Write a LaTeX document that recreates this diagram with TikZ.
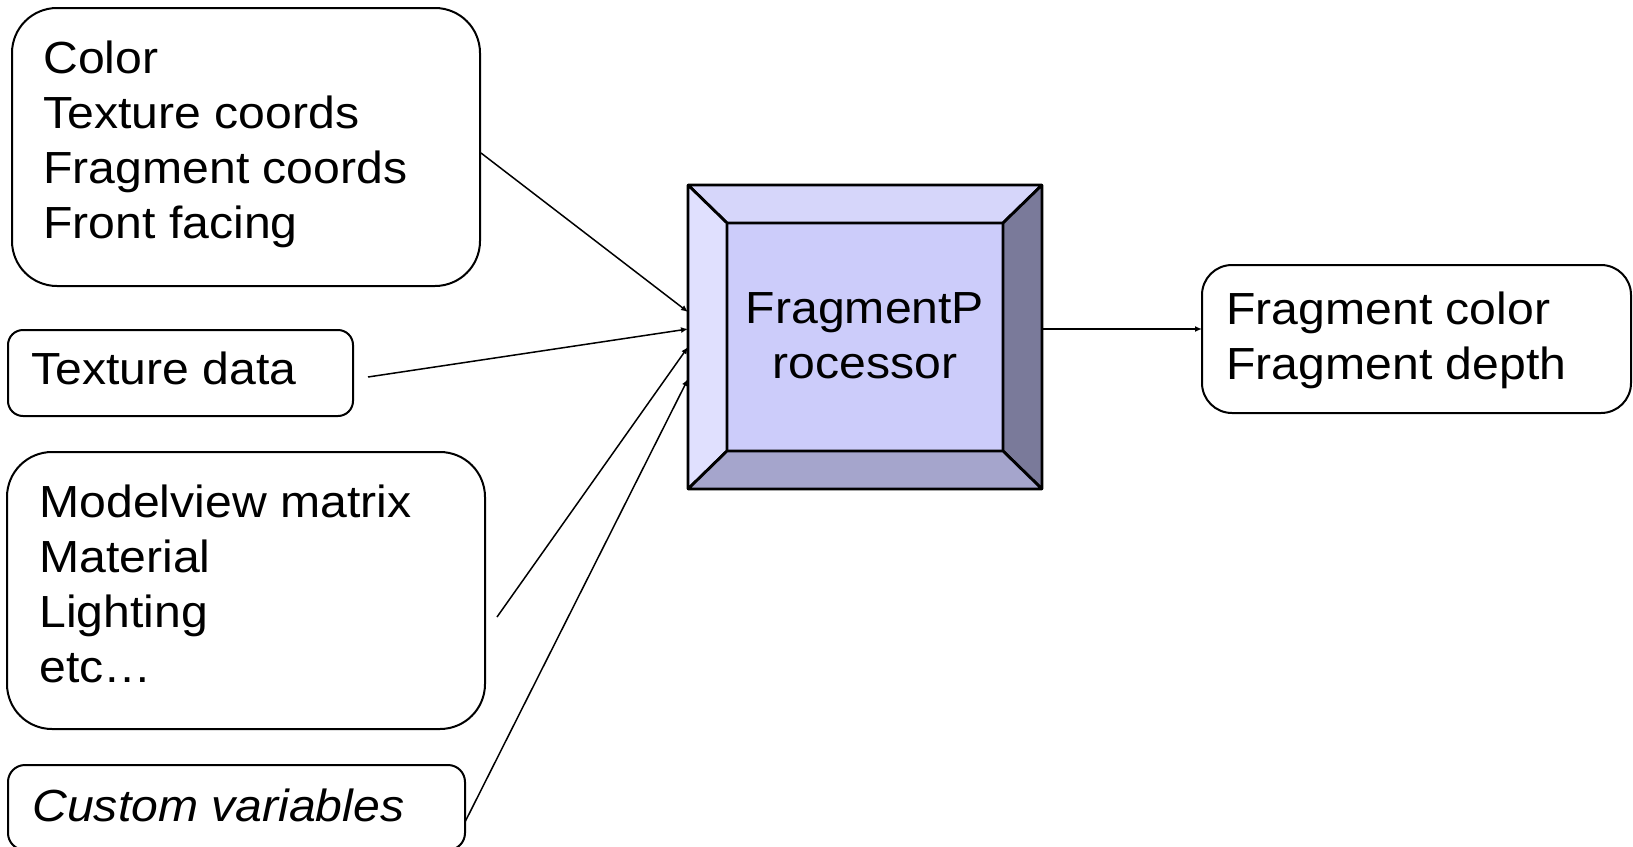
\documentclass[tikz,border=0pt]{standalone}
\usepackage{fontspec}
\setmainfont{Liberation Sans}[FakeStretch=1.07]
\usetikzlibrary{arrows.meta}

% multi-line text whose baseline is that of its first line
\newcommand{\txtlines}[2][l]{\begin{tabular}[t]{@{}#1@{}}#2\end{tabular}}

\definecolor{bevtop}{RGB}{214,214,250}
\definecolor{bevleft}{RGB}{224,224,254}
\definecolor{bevright}{RGB}{122,122,154}
\definecolor{bevbottom}{RGB}{165,165,204}
\definecolor{facecol}{RGB}{204,204,250}

\begin{document}
\begin{tikzpicture}[x=0.5pt,y=-0.5pt,
  panel/.style={draw,line width=1pt,rounded corners=#1,inner sep=0pt,outer sep=0pt},
  shape only/.style={inner sep=0pt,outer sep=0pt},
  body/.style={font=\fontsize{22.5}{27.6}\selectfont,inner sep=0pt,anchor=base west},
  feed/.style={-{Latex[length=3.5pt,width=3pt]},line width=0.75pt},
  edge line/.style={line width=1.4pt,line join=bevel}]

\useasboundingbox (0,0) rectangle (1633,846);
\clip (0,0) rectangle (1633,846);

% input panels
\node[panel=22.5pt,minimum width=234pt,minimum height=139pt] (inA) at (246,147) {};
\node[panel=7.5pt,minimum width=172.5pt,minimum height=43pt] (inB) at (180.5,373) {};
\node[panel=22.5pt,minimum width=239pt,minimum height=138.5pt] (inC) at (246,590.5) {};
\node[panel=8.5pt,minimum width=228.5pt,minimum height=42.5pt] (inD) at (236.5,807.5) {};

% output panel
\node[panel=15pt,minimum width=214.5pt,minimum height=74pt] (out) at (1416.5,339) {};

% panel texts
\node[body] (tA) at (43,73) {\txtlines{Color\\Texture coords\\Fragment coords\\Front facing}};
\node[body] (tB) at (31,384) {Texture data};
\node[body] (tC) at (39,517) {\txtlines{Modelview matrix\\Material\\Lighting\\etc…}};
\node[body] (tD) at (32,821) {\itshape Custom variables};
\node[body] (tO) at (1226,324) {\txtlines{Fragment color\\Fragment depth}};

% bevelled processor block
\node[shape only,minimum width=177pt,minimum height=152pt] (fp) at (865,337) {};
\node[shape only,draw,edge line,fill=facecol,minimum width=138pt,minimum height=114pt] (fpin) at (865,337) {};
\filldraw[edge line,fill=bevtop] (fp.north west) -- (fp.north east) -- (fpin.north east) -- (fpin.north west) -- cycle;
\filldraw[edge line,fill=bevleft] (fp.north west) -- (fpin.north west) -- (fpin.south west) -- (fp.south west) -- cycle;
\filldraw[edge line,fill=bevright] (fp.north east) -- (fp.south east) -- (fpin.south east) -- (fpin.north east) -- cycle;
\filldraw[edge line,fill=bevbottom] (fp.south west) -- (fpin.south west) -- (fpin.south east) -- (fp.south east) -- cycle;
\draw[line width=1.4pt,line join=miter] (fp.north west) rectangle (fp.south east);
\draw[line width=1.4pt,line join=miter] (fpin.north west) rectangle (fpin.south east);
\node[inner sep=0pt,anchor=base,font=\fontsize{22.5}{27.5}\selectfont] (fptext) at (865,323)
  {\txtlines[c]{FragmentP\\rocessor}};

% connectors
\draw[feed] ([shift={(1,6)}]inA.east) -- ([shift={(0,-25)}]fp.west);
\draw[feed] ([shift={(15,4)}]inB.east) -- ([shift={(0,-8)}]fp.west);
\draw[feed] ([shift={(12,26.5)}]inC.east) -- ([shift={(0,10)}]fp.west);
\draw[feed] ([shift={(0,14.5)}]inD.east) -- ([shift={(0,42)}]fp.west);
\draw[feed] ([shift={(0,-8)}]fp.east) -- ([shift={(0,-10)}]out.west);

\end{tikzpicture}
\end{document}
